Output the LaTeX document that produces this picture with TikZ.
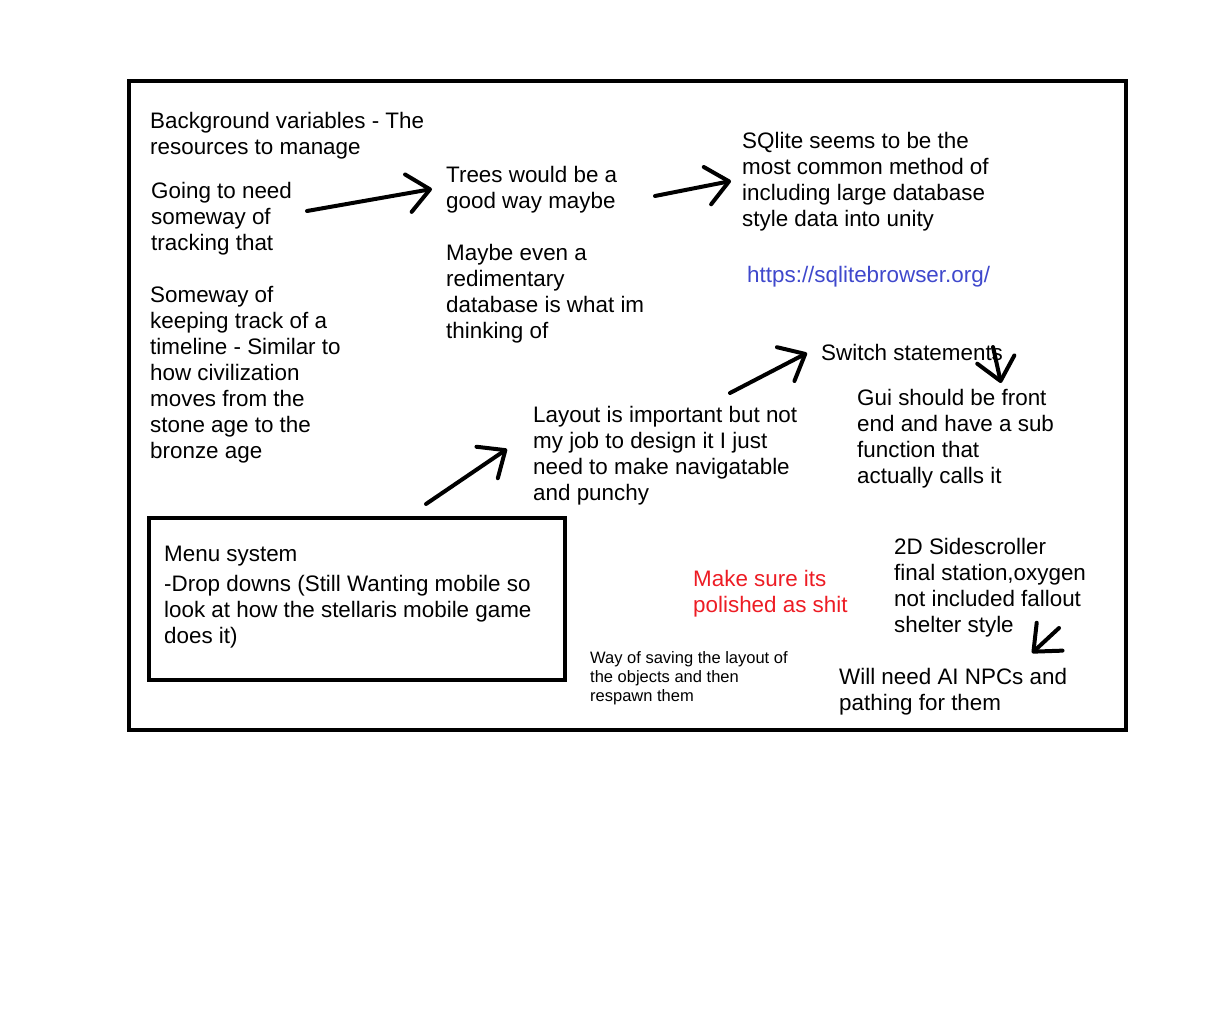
\documentclass[tikz,border=0pt]{standalone}
\usepackage{fontspec}
\setmainfont{Liberation Sans}
\usetikzlibrary{arrows.meta}

\definecolor{paintred}{RGB}{237,28,36}
\definecolor{linkblue}{RGB}{63,72,204}

\begin{document}
\begin{tikzpicture}[x=1pt,y=-1pt,
    note/.style={anchor=north west, inner sep=0pt, align=left,
        font=\fontsize{22.4}{26}\selectfont},
    smallnote/.style={note, font=\fontsize{16.5}{19}\selectfont},
    scrawl/.style={line width=4pt, line cap=round,
        -{Straight Barb[length=22pt,width=38pt,round]}}]
    \useasboundingbox (0,0) rectangle (1228,1016);
    % outer frame
    \draw[line width=4pt] (129,81) rectangle (1126,730);

    \node[note] (bgvars) at (150,112) {Background variables - The\\resources to manage};
    \node[note] (tracking) at (151,182) {Going to need\\someway of\\tracking that};
    \node[note] (timeline) at (150,286) {Someway of\\keeping track of a\\timeline - Similar to\\how civilization\\moves from the\\stone age to the\\bronze age};
    \node[note] (trees) at (446,166) {Trees would be a\\good way maybe};
    \node[note] (database) at (446,244) {Maybe even a\\redimentary\\database is what im\\thinking of};
    \node[note] (sqlite) at (742,132) {SQlite seems to be the\\most common method of\\including large database\\style data into unity};
    \node[note, text=linkblue] (link) at (747,266) {https://sqlitebrowser.org/};
    \node[note] (switch) at (821,344) {Switch statements};
    \node[note] (gui) at (857,389) {Gui should be front\\end and have a sub\\function that\\actually calls it};
    \node[note] (layout) at (533,406) {Layout is important but not\\my job to design it I just\\need to make navigatable\\and punchy};

    % menu box
    \node[draw, line width=4pt, anchor=north west, inner sep=0pt, outer sep=0pt,
        minimum width=416pt, minimum height=162pt] (menubox) at (149,518) {};
    \node[note] (menu) at (164,546) {Menu system\\[4pt]-Drop downs (Still Wanting mobile so\\look at how the stellaris mobile game\\does it)};

    \node[note, text=paintred] (polish) at (693,570) {Make sure its\\polished as shit};
    \node[note] (sidescroller) at (894,538) {2D Sidescroller\\final station,oxygen\\not included fallout\\shelter style};
    \node[note] (npcs) at (839,668) {Will need AI NPCs and\\pathing for them};
    \node[smallnote] (saving) at (590,651) {Way of saving the layout of\\the objects and then\\respawn them};

    % arrow ends
    \coordinate (trackout) at (307,211);
    \coordinate (treesin) at (432,189);
    \coordinate (treesout) at (655,196);
    \coordinate (sqlitein) at (731,181);
    \coordinate (menuout) at (426,504);
    \coordinate (layoutin) at (507,449);
    \coordinate (layoutout) at (730,393);
    \coordinate (switchin) at (807,353);
    \coordinate (switchout) at (993,347);
    \coordinate (guiin) at (1001,383);
    \coordinate (sideout) at (1059,628);
    \coordinate (npcsin) at (1032,653);

    \draw[scrawl] (trackout) -- (treesin);
    \draw[scrawl] (treesout) -- (sqlitein);
    \draw[scrawl] (menuout) -- (layoutin);
    \draw[scrawl] (layoutout) -- (switchin);
    \draw[scrawl] (switchout) -- (guiin);
    \draw[scrawl] (sideout) -- (npcsin);
\end{tikzpicture}
\end{document}
